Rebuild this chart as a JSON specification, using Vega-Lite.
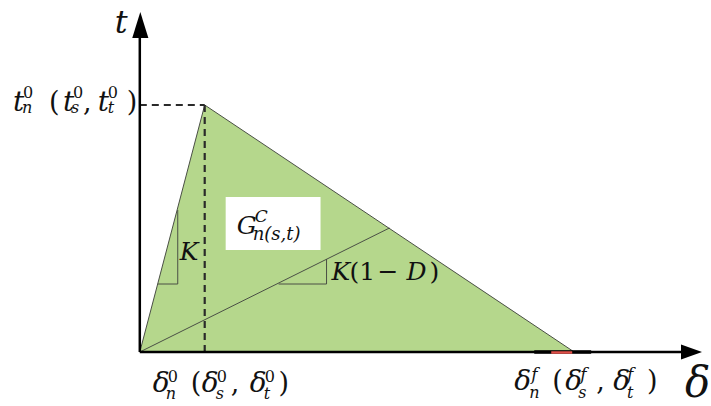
{
  "$schema": "https://vega.github.io/schema/vega-lite/v6.json",
  "width": 711,
  "height": 406,
  "padding": 0,
  "autosize": {"type": "fit", "contains": "padding"},
  "background": "white",
  "config": {"view": {"stroke": null}},
  "datasets": {
    "triangle": [{"x": 0, "y": 0}, {"x": 65, "y": 247}, {"x": 435, "y": 0}],
    "thin": [
      {"x": 0, "y": 0, "x2": 65, "y2": 247},
      {"x": 65, "y": 247, "x2": 435, "y2": 0},
      {"x": 0, "y": 0, "x2": 250, "y2": 124},
      {"x": 38, "y": 142, "x2": 38, "y2": 68},
      {"x": 18, "y": 68, "x2": 38, "y2": 68},
      {"x": 187, "y": 93, "x2": 187, "y2": 68},
      {"x": 139, "y": 68, "x2": 187, "y2": 68}
    ],
    "dashed": [
      {"x": 0, "y": 247, "x2": 65, "y2": 247},
      {"x": 65, "y": 247, "x2": 65, "y2": 0}
    ],
    "axes": [
      {"x": 0, "y": 0, "x2": 0, "y2": 318},
      {"x": 0, "y": 0, "x2": 545, "y2": 0}
    ],
    "mark_black": [{"x": 395, "y": 0, "x2": 452, "y2": 0}],
    "mark_red": [{"x": 412, "y": -0.5, "x2": 433, "y2": -0.5}],
    "box": [{"x": 86, "y": 155, "x2": 181, "y2": 102}],
    "arrow_x": [{"x": 552.5, "y": 0}],
    "arrow_y": [{"x": 0.5, "y": 327}],
    "main_italic": [
      {"x": -127, "y": 241, "s": "t"}, {"x": -77, "y": 241, "s": "t"}, {"x": -42, "y": 241, "s": "t"},
      {"x": 13, "y": -40, "s": "δ"}, {"x": 62, "y": -40, "s": "δ"}, {"x": 110, "y": -40, "s": "δ"},
      {"x": 375, "y": -38, "s": "δ"}, {"x": 426, "y": -38, "s": "δ"}, {"x": 474, "y": -38, "s": "δ"}
    ],
    "main_upright": [
      {"x": -91, "y": 241, "s": "("}, {"x": -57, "y": 241, "s": ","}, {"x": -13, "y": 241, "s": ")"},
      {"x": 51, "y": -40, "s": "("}, {"x": 91, "y": -40, "s": ","}, {"x": 139, "y": -40, "s": ")"},
      {"x": 413, "y": -38, "s": "("}, {"x": 457, "y": -38, "s": ","}, {"x": 508, "y": -38, "s": ")"}
    ],
    "mid_italic": [
      {"x": 97, "y": 118, "s": "G"},
      {"x": 40, "y": 92, "s": "K"}, {"x": 192, "y": 72, "s": "K"}, {"x": 267, "y": 72, "s": "D"}
    ],
    "mid_upright": [
      {"x": 210, "y": 72, "s": "(1"}, {"x": 238, "y": 72, "s": "−"}, {"x": 290, "y": 72, "s": ")"}
    ],
    "sup_upright": [
      {"x": -117, "y": 254, "s": "0"}, {"x": -67, "y": 254, "s": "0"}, {"x": -32, "y": 254, "s": "0"},
      {"x": 28, "y": -30, "s": "0"}, {"x": 77, "y": -30, "s": "0"}, {"x": 125, "y": -30, "s": "0"}
    ],
    "sup_italic": [
      {"x": 392, "y": -28, "s": "f"}, {"x": 441, "y": -28, "s": "f"}, {"x": 488, "y": -28, "s": "f"},
      {"x": 115, "y": 130, "s": "C"}
    ],
    "sub_italic": [
      {"x": -118, "y": 239, "s": "n"}, {"x": -69, "y": 239, "s": "s"}, {"x": -32, "y": 239, "s": "t"},
      {"x": 26, "y": -47, "s": "n"}, {"x": 76, "y": -47, "s": "s"}, {"x": 124, "y": -47, "s": "t"},
      {"x": 390, "y": -46, "s": "n"}, {"x": 439, "y": -46, "s": "s"}, {"x": 488, "y": -46, "s": "t"}
    ],
    "sub_G": [{"x": 113, "y": 112, "s": "n(s,t)"}],
    "title_t": [{"x": -25, "y": 319, "s": "t"}],
    "title_d": [{"x": 546, "y": -45, "s": "δ"}]
  },
  "encoding": {
    "x": {"field": "x", "type": "quantitative", "scale": {"domain": [-140, 571], "nice": false, "zero": false}, "axis": null},
    "y": {"field": "y", "type": "quantitative", "scale": {"domain": [-54, 352], "nice": false, "zero": false}, "axis": null}
  },
  "layer": [
    {
      "data": {"name": "triangle"},
      "mark": {"type": "area", "color": "#b5d78c", "opacity": 1, "interpolate": "linear"},
      "encoding": {"y2": {"datum": 0}}
    },
    {
      "data": {"name": "box"},
      "mark": {"type": "rect", "color": "white", "opacity": 1},
      "encoding": {"x2": {"field": "x2"}, "y2": {"field": "y2"}}
    },
    {
      "data": {"name": "thin"},
      "mark": {"type": "rule", "color": "#4a4f45", "strokeWidth": 1},
      "encoding": {"x2": {"field": "x2"}, "y2": {"field": "y2"}}
    },
    {
      "data": {"name": "dashed"},
      "mark": {"type": "rule", "color": "#2a2a2a", "strokeWidth": 2.2, "strokeDash": [7, 5]},
      "encoding": {"x2": {"field": "x2"}, "y2": {"field": "y2"}}
    },
    {
      "data": {"name": "axes"},
      "mark": {"type": "rule", "color": "#000", "strokeWidth": 2.5},
      "encoding": {"x2": {"field": "x2"}, "y2": {"field": "y2"}}
    },
    {
      "data": {"name": "mark_black"},
      "mark": {"type": "rule", "color": "#000", "strokeWidth": 3.5},
      "encoding": {"x2": {"field": "x2"}, "y2": {"field": "y2"}}
    },
    {
      "data": {"name": "mark_red"},
      "mark": {"type": "rule", "color": "#e0504a", "strokeWidth": 2.5},
      "encoding": {"x2": {"field": "x2"}, "y2": {"field": "y2"}}
    },
    {
      "data": {"name": "arrow_x"},
      "mark": {"type": "point", "shape": "M-1,-0.71L1,0L-1,0.71Z", "size": 441, "filled": true, "color": "#000", "opacity": 1, "strokeWidth": 0}
    },
    {
      "data": {"name": "arrow_y"},
      "mark": {"type": "point", "shape": "M0,-1L0.62,1L-0.62,1Z", "size": 676, "filled": true, "color": "#000", "opacity": 1, "strokeWidth": 0}
    },
    {
      "data": {"name": "main_italic"},
      "mark": {"type": "text", "align": "left", "baseline": "alphabetic", "font": "DejaVu Serif", "fontStyle": "italic", "fontSize": 28, "color": "#111"},
      "encoding": {"text": {"field": "s"}}
    },
    {
      "data": {"name": "main_upright"},
      "mark": {"type": "text", "align": "left", "baseline": "alphabetic", "font": "DejaVu Serif", "fontSize": 27, "color": "#111"},
      "encoding": {"text": {"field": "s"}}
    },
    {
      "data": {"name": "mid_italic"},
      "mark": {"type": "text", "align": "left", "baseline": "alphabetic", "font": "DejaVu Serif", "fontStyle": "italic", "fontSize": 25, "color": "#111"},
      "encoding": {"text": {"field": "s"}}
    },
    {
      "data": {"name": "mid_upright"},
      "mark": {"type": "text", "align": "left", "baseline": "alphabetic", "font": "DejaVu Serif", "fontSize": 25, "color": "#111"},
      "encoding": {"text": {"field": "s"}}
    },
    {
      "data": {"name": "sup_upright"},
      "mark": {"type": "text", "align": "left", "baseline": "alphabetic", "font": "DejaVu Serif", "fontSize": 16, "color": "#111"},
      "encoding": {"text": {"field": "s"}}
    },
    {
      "data": {"name": "sup_italic"},
      "mark": {"type": "text", "align": "left", "baseline": "alphabetic", "font": "DejaVu Serif", "fontStyle": "italic", "fontSize": 17, "color": "#111"},
      "encoding": {"text": {"field": "s"}}
    },
    {
      "data": {"name": "sub_italic"},
      "mark": {"type": "text", "align": "left", "baseline": "alphabetic", "font": "DejaVu Serif", "fontStyle": "italic", "fontSize": 16, "color": "#111"},
      "encoding": {"text": {"field": "s"}}
    },
    {
      "data": {"name": "sub_G"},
      "mark": {"type": "text", "align": "left", "baseline": "alphabetic", "font": "DejaVu Serif", "fontStyle": "italic", "fontSize": 18, "color": "#111"},
      "encoding": {"text": {"field": "s"}}
    },
    {
      "data": {"name": "title_t"},
      "mark": {"type": "text", "align": "left", "baseline": "alphabetic", "font": "DejaVu Serif", "fontStyle": "italic", "fontSize": 32, "color": "#111"},
      "encoding": {"text": {"field": "s"}}
    },
    {
      "data": {"name": "title_d"},
      "mark": {"type": "text", "align": "left", "baseline": "alphabetic", "font": "DejaVu Serif", "fontStyle": "italic", "fontSize": 42, "color": "#111"},
      "encoding": {"text": {"field": "s"}}
    }
  ]
}
